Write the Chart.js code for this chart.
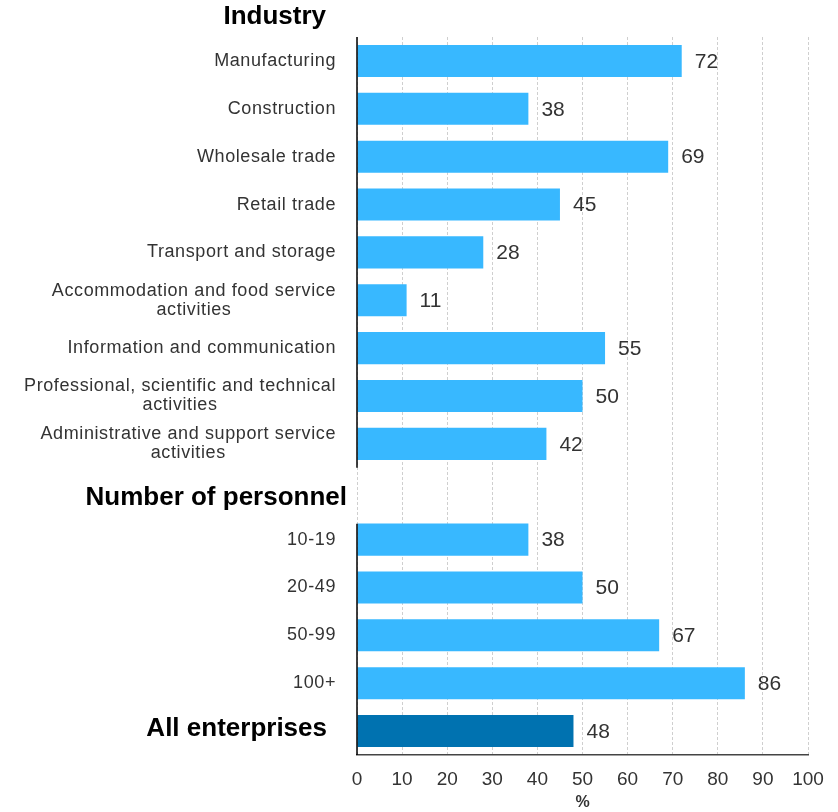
<!DOCTYPE html>
<html>
<head>
<meta charset="utf-8">
<script src="https://cdn.jsdelivr.net/npm/chart.js@4"></script>
<style>
  html, body { margin: 0; padding: 0; background: #fff; }
  #wrap { width: 838px; height: 812px; }
</style>
</head>
<body>
<div id="wrap"><canvas id="barCanvas"></canvas></div>
<script>
const industryLabels = [
    ["Manufacturing"],
    ["Construction"],
    ["Wholesale trade"],
    ["Retail trade"],
    ["Transport and storage"],
    ["Accommodation and food service", "activities"],
    ["Information and communication"],
    ["Professional, scientific and technical", "activities"],
    ["Administrative and support service", "activities"]
];
const industryValues = [72, 38, 69, 45, 28, 11, 55, 50, 42];
const personnelLabels = [["10-19"], ["20-49"], ["50-99"], ["100+"]];
const personnelValues = [38, 50, 67, 86];
const totalLabel = "All enterprises";
const totalValue = 48;
const industryHeading = "Industry";
const personnelHeading = "Number of personnel";

const FONT = '"Liberation Sans", Arial, sans-serif';
const LIGHT = "rgb(56, 184, 255)";
const DARK = "rgb(0, 114, 176)";

// one row per category; the personnel heading takes a row of its own
const rows = [];
industryLabels.forEach((l, i) => rows.push({kind: "item", lines: l, value: industryValues[i]}));
rows.push({kind: "heading", lines: [personnelHeading], value: null});
personnelLabels.forEach((l, i) => rows.push({kind: "item", lines: l, value: personnelValues[i]}));
rows.push({kind: "total", lines: [totalLabel], value: totalValue});

const rowLabels = {
    id: "rowLabels",
    afterDatasetsDraw(chart) {
        const ctx = chart.ctx;
        const yScale = chart.scales.y;
        const area = chart.chartArea;
        const half = (yScale.getPixelForValue(1) - yScale.getPixelForValue(0)) / 2;
        ctx.save();
        ctx.textBaseline = "middle";

        rows.forEach((row, i) => {
            const cy = yScale.getPixelForValue(i);
            if (row.kind === "item") {
                ctx.font = "18px " + FONT;
                ctx.letterSpacing = "0.6px";
                ctx.fillStyle = "#333";
                ctx.textAlign = "center";
                const w = Math.max(...row.lines.map(l => ctx.measureText(l).width));
                const cx = area.left - 21 - w / 2;
                row.lines.forEach((l, k) => {
                    ctx.fillText(l, cx, cy + (k - (row.lines.length - 1) / 2) * 19);
                });
            } else {
                ctx.font = "bold 26px " + FONT;
                ctx.letterSpacing = "0px";
                ctx.fillStyle = "#000";
                ctx.textAlign = "right";
                const right = row.kind === "heading" ? area.left - 10 : area.left - 30;
                ctx.fillText(row.lines[0], right, cy + (row.kind === "heading" ? 6 : -2));
            }
        });

        ctx.font = "bold 26px " + FONT;
        ctx.textAlign = "right";
        ctx.fillStyle = "#000";
        ctx.fillText(industryHeading, area.left - 31, area.top - 20);

        // values next to the bars
        const meta = chart.getDatasetMeta(0);
        ctx.font = "21px " + FONT;
        ctx.fillStyle = "#333";
        ctx.textAlign = "left";
        meta.data.forEach((bar, i) => {
            if (rows[i].value === null) return;
            ctx.fillText(String(rows[i].value), bar.x + 13, bar.y + 1);
        });

        // vertical axis, broken at the heading row
        ctx.strokeStyle = "#000";
        ctx.lineWidth = 1.5;
        ctx.beginPath();
        ctx.moveTo(area.left, yScale.getPixelForValue(0) - half);
        ctx.lineTo(area.left, yScale.getPixelForValue(8) + half);
        ctx.moveTo(area.left, yScale.getPixelForValue(10) - half + 8);
        ctx.lineTo(area.left, yScale.getPixelForValue(14) + half);
        ctx.stroke();
        ctx.restore();
    }
};

new Chart(document.getElementById("barCanvas"), {
    type: "bar",
    data: {
        labels: rows.map(r => r.lines.join(" ")),
        datasets: [{
            data: rows.map(r => r.value),
            backgroundColor: rows.map(r => r.kind === "total" ? DARK : LIGHT),
            borderWidth: 0,
            barPercentage: 0.67,
            categoryPercentage: 1
        }]
    },
    options: {
        indexAxis: "y",
        responsive: true,
        maintainAspectRatio: false,
        animation: false,
        layout: {
            padding: {left: 357, right: 30, top: 37, bottom: 0}
        },
        plugins: {
            legend: {display: false},
            tooltip: {enabled: false}
        },
        scales: {
            y: {
                display: false
            },
            x: {
                min: 0,
                max: 100,
                ticks: {
                    stepSize: 10,
                    padding: 13,
                    color: "#333",
                    font: {family: FONT, size: 19}
                },
                grid: {
                    color: "#cfcfcf",
                    lineWidth: 1,
                    drawTicks: false
                },
                border: {
                    display: true,
                    color: "#444",
                    width: 1.5,
                    dash: [3, 2]
                },
                title: {
                    display: true,
                    text: "%",
                    color: "#333",
                    font: {family: FONT, size: 16, weight: "bold"},
                    padding: 0
                },
                afterFit(scale) {
                    scale.height = 57;
                }
            }
        }
    },
    plugins: [rowLabels]
});
</script>
</body>
</html>
